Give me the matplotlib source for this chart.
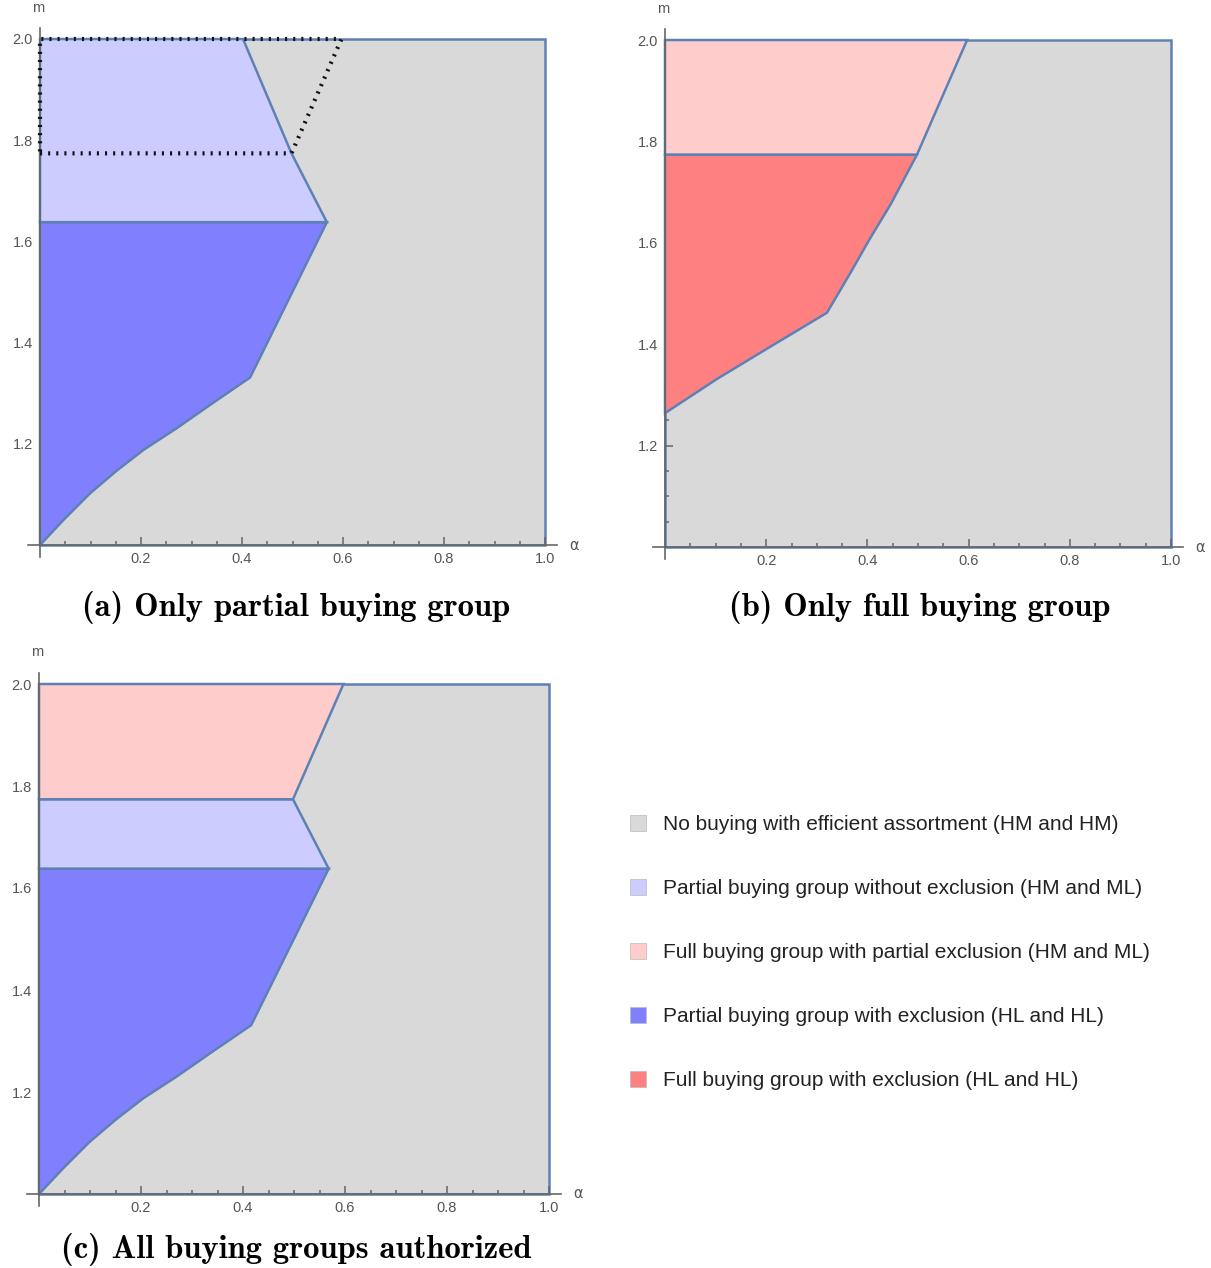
import matplotlib
matplotlib.use("Agg")
import matplotlib.pyplot as plt
from matplotlib.patches import Patch
from matplotlib.ticker import FixedLocator

# ---- data ----
# full parameter box: alpha in [0, 1], m in [1, 2]
box_alpha = [0.0, 1.0, 1.0, 0.0]
box_m = [1.0, 1.0, 2.0, 2.0]

m_excl_top = 1.638   # top of the "partial buying group with exclusion" region
m_full_split = 1.774  # split between full buying group regions

# lower / right boundary of partial buying group with exclusion (panels a, c)
pe_alpha = [0.0, 0.046, 0.099, 0.152, 0.205, 0.271, 0.337, 0.416, 0.568]
pe_m = [1.0, 1.049, 1.102, 1.147, 1.188, 1.231, 1.277, 1.331, 1.638]

# right boundary of partial buying group without exclusion (panel a)
pn_alpha = [0.568, 0.498, 0.402]
pn_m = [1.638, 1.774, 2.0]

# lower / right boundary of full buying group with exclusion (panel b)
fe_alpha = [0.0, 0.102, 0.208, 0.320, 0.366, 0.406, 0.446, 0.498]
fe_m = [1.264, 1.331, 1.395, 1.462, 1.540, 1.610, 1.676, 1.774]

# right boundary of full buying group with partial exclusion (panels b, c)
fp_alpha = [0.498, 0.597]
fp_m = [1.774, 2.0]

legend_labels = [
    "No buying with efficient assortment (HM and HM)",
    "Partial buying group without exclusion (HM and ML)",
    "Full buying group with partial exclusion (HM and ML)",
    "Partial buying group with exclusion (HL and HL)",
    "Full buying group with exclusion (HL and HL)",
]
captions = [
    "(a) Only partial buying group",
    "(b) Only full buying group",
    "(c) All buying groups authorized",
]

x_major = [0.2, 0.4, 0.6, 0.8, 1.0]
y_major = [1.2, 1.4, 1.6, 1.8, 2.0]

# ---- styling ----
C_GRAY = "#D9D9D9"
C_LBLUE = "#CCCCFF"
C_BLUE = "#8080FF"
C_LRED = "#FFCCCC"
C_RED = "#FF8080"
C_EDGE = "#5E81B5"
C_AXIS = "#666666"
C_TICK = "#555555"

W, H = 1211, 1268
fig = plt.figure(figsize=(W / 100, H / 100), dpi=100)

XLIM = (-0.05, 1.08)
YLIM = (0.95, 2.05)


def add_panel(x0, x1, ytop, ybot):
    # x0/x1: pixel of alpha=0/1, ytop/ybot: pixel of m=2/1
    sx = x1 - x0
    sy = ybot - ytop
    left = x0 + XLIM[0] * sx
    right = x0 + XLIM[1] * sx
    top = ytop - (YLIM[1] - 2.0) * sy
    bottom = ybot + (1.0 - YLIM[0]) * sy
    ax = fig.add_axes([left / W, 1 - bottom / H, (right - left) / W, (bottom - top) / H])
    ax.set_xlim(*XLIM)
    ax.set_ylim(*YLIM)
    ax.patch.set_visible(False)

    for s in ("top", "right"):
        ax.spines[s].set_visible(False)
    ax.spines["left"].set_position(("data", 0.0))
    ax.spines["bottom"].set_position(("data", 1.0))
    ax.spines["left"].set_bounds(0.976, 2.022)
    ax.spines["bottom"].set_bounds(-0.024, 1.024)
    for s in ("left", "bottom"):
        ax.spines[s].set_color(C_AXIS)
        ax.spines[s].set_linewidth(1.2)
        ax.spines[s].set_zorder(4)

    ax.xaxis.set_major_locator(FixedLocator(x_major))
    ax.yaxis.set_major_locator(FixedLocator(y_major))
    ax.xaxis.set_minor_locator(FixedLocator([i * 0.05 for i in range(1, 21) if i % 4]))
    ax.yaxis.set_minor_locator(FixedLocator([1 + i * 0.05 for i in range(1, 21) if i % 4]))
    ax.set_xticklabels([f"{v:.1f}" for v in x_major])
    ax.set_yticklabels([f"{v:.1f}" for v in y_major])
    ax.tick_params(which="both", direction="in", color=C_AXIS, width=1.1,
                   labelcolor=C_TICK, labelsize=10.5, pad=5)
    ax.tick_params(which="major", length=5.5)
    ax.tick_params(which="minor", length=3.2)
    for lab in ax.get_xticklabels() + ax.get_yticklabels():
        lab.set_fontfamily("Liberation Sans")

    ax.text(1.057, 1.0, "α", color=C_TICK, fontsize=10.5, ha="center", va="center",
            fontfamily="DejaVu Sans")
    ax.text(-0.004, 2.062, "m", color=C_TICK, fontsize=10.5, ha="center", va="center",
            fontfamily="Liberation Sans")

    ax.fill(box_alpha, box_m, facecolor=C_GRAY, edgecolor=C_EDGE, linewidth=1.8, zorder=1)
    return ax


def region(ax, a, m, color):
    ax.fill(a, m, facecolor=color, edgecolor=C_EDGE, linewidth=1.8,
            joinstyle="miter", zorder=2)


# (a) only partial buying group
ax_a = add_panel(40, 545, 39, 545)
region(ax_a, pe_alpha + [0.0], pe_m + [m_excl_top], C_BLUE)
region(ax_a, [0.0] + pn_alpha + [0.0], [m_excl_top] + pn_m + [2.0], C_LBLUE)
ax_a.plot([0.0] + fp_alpha + [0.0, 0.0], [m_full_split] + fp_m + [2.0, m_full_split],
          color="#111111", linewidth=3.0, dashes=(0.5, 1.45), dash_capstyle="butt",
          zorder=5, clip_on=False)

# (b) only full buying group
ax_b = add_panel(665, 1171, 40, 547)
region(ax_b, fe_alpha + [0.0], fe_m + [m_full_split], C_RED)
region(ax_b, [0.0] + fp_alpha + [0.0], [m_full_split] + fp_m + [2.0], C_LRED)

# (c) all buying groups authorized
ax_c = add_panel(39, 549, 684, 1194)
region(ax_c, pe_alpha + [0.0], pe_m + [m_excl_top], C_BLUE)
region(ax_c, [0.0] + pn_alpha[:2] + [0.0], [m_excl_top] + pn_m[:2] + [m_full_split], C_LBLUE)
region(ax_c, [0.0] + fp_alpha + [0.0], [m_full_split] + fp_m + [2.0], C_LRED)

# captions
cap_pos = [(296, 607), (920, 607), (296, 1250)]
for txt, (px, py) in zip(captions, cap_pos):
    fig.text(px / W, 1 - py / H, txt, fontfamily="cmb10", fontsize=23.5,
             ha="center", va="center", color="black")

# legend
colors = [C_GRAY, C_LBLUE, C_LRED, C_BLUE, C_RED]
handles = [Patch(facecolor=c, edgecolor="#BBBBBB", linewidth=0.5) for c in colors]
leg = fig.legend(handles, legend_labels, loc="upper left",
                 bbox_to_anchor=(630 / W, 1 - 815 / H), frameon=False,
                 prop={"family": "Liberation Sans", "size": 15},
                 handlelength=0.77, handleheight=0.77, handletextpad=0.82,
                 labelspacing=2.16, borderpad=0, borderaxespad=0)
for t in leg.get_texts():
    t.set_color("#222222")

fig.savefig("out.png", dpi=100)
